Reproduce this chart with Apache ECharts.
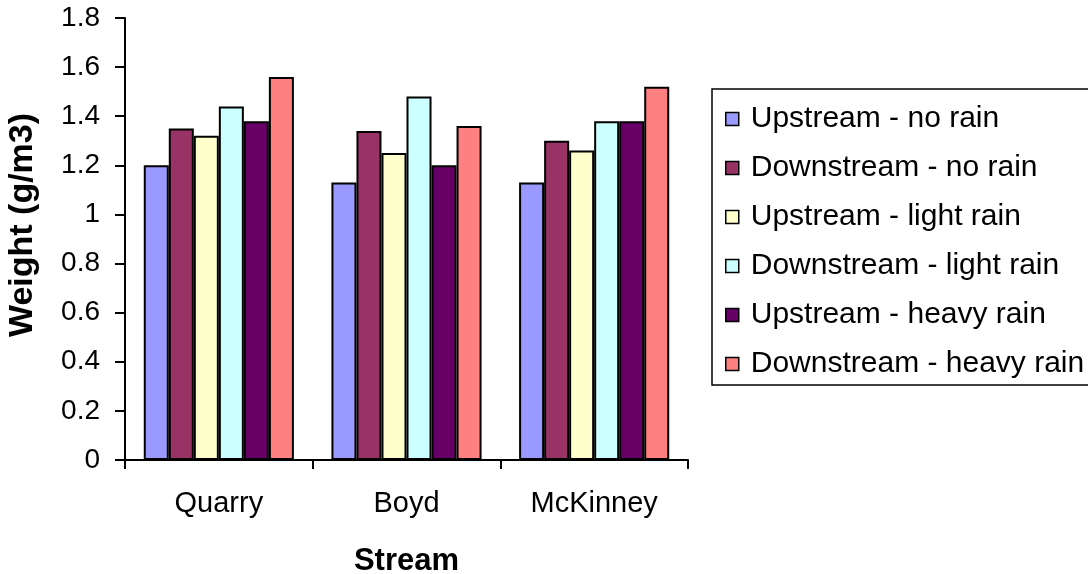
<!DOCTYPE html>
<html>
<head>
<meta charset="utf-8">
<script src="https://cdn.jsdelivr.net/npm/echarts@6/dist/echarts.min.js"></script>
<style>
  html, body { margin: 0; padding: 0; background: #fff; }
  #chart { width: 1088px; height: 574px; }
</style>
</head>
<body>
<div id="chart"></div>
<script>
// Streams sampled
const streams = ['Quarry', 'Boyd', 'McKinney'];

// Series names (sampling position / weather)
const seriesNames = [
  'Upstream - no rain',
  'Downstream - no rain',
  'Upstream - light rain',
  'Downstream - light rain',
  'Upstream - heavy rain',
  'Downstream - heavy rain'
];

// Weight (g/m3) per stream, one array per series
const upstreamNoRain      = [1.20, 1.13, 1.13];
const downstreamNoRain    = [1.35, 1.34, 1.30];
const upstreamLightRain   = [1.32, 1.25, 1.26];
const downstreamLightRain = [1.44, 1.48, 1.38];
const upstreamHeavyRain   = [1.38, 1.20, 1.38];
const downstreamHeavyRain = [1.56, 1.36, 1.52];

const seriesValues = [
  upstreamNoRain, downstreamNoRain, upstreamLightRain,
  downstreamLightRain, upstreamHeavyRain, downstreamHeavyRain
];

const seriesColors = ['#9999FF', '#993366', '#FFFFCC', '#CCFFFF', '#660066', '#FF8080'];

const FONT = '"Liberation Sans", Arial, sans-serif';

const chart = echarts.init(document.getElementById('chart'), null, { renderer: 'canvas' });

chart.setOption({
  animation: false,
  backgroundColor: '#ffffff',
  textStyle: { fontFamily: FONT, color: '#000' },
  grid: {
    left: 125, right: 400, top: 18, bottom: 114,
    containLabel: false,
    outerBoundsMode: 'none'
  },
  legend: {
    orient: 'vertical',
    left: 712,
    top: 89,
    padding: [15, 40, 6, 13],
    itemGap: 19,
    itemWidth: 13,
    itemHeight: 13,
    icon: 'rect',
    borderColor: '#000',
    borderWidth: 1.5,
    itemStyle: { borderColor: '#000', borderWidth: 1.5 },
    textStyle: { fontFamily: FONT, fontSize: 30, color: '#000', lineHeight: 30, padding: [0, 0, 0, 7] },
    data: seriesNames
  },
  xAxis: {
    type: 'category',
    data: streams,
    name: 'Stream',
    nameLocation: 'middle',
    nameGap: 86,
    nameTextStyle: { fontFamily: FONT, fontSize: 31, fontWeight: 'bold', color: '#000' },
    axisLine: { lineStyle: { color: '#000', width: 2 } },
    axisTick: { show: true, length: 9, inside: false, lineStyle: { color: '#000', width: 2 } },
    axisLabel: { fontFamily: FONT, fontSize: 29, color: '#000', margin: 29 },
    splitLine: { show: false }
  },
  yAxis: {
    type: 'value',
    min: 0,
    max: 1.8,
    interval: 0.2,
    name: 'Weight (g/m3)',
    nameLocation: 'middle',
    nameGap: 85,
    nameRotate: 90,
    nameTextStyle: { fontFamily: FONT, fontSize: 34, fontWeight: 'bold', color: '#000', padding: [0, 0, 0, 28] },
    axisLine: { show: true, lineStyle: { color: '#000', width: 2 } },
    axisTick: { show: true, length: 10, inside: false, lineStyle: { color: '#000', width: 2 } },
    axisLabel: {
      fontFamily: FONT, fontSize: 28, color: '#000', margin: 25,
      formatter: v => String(Math.round(v * 10) / 10)
    },
    splitLine: { show: false }
  },
  series: seriesNames.map((name, i) => ({
    name,
    type: 'bar',
    data: seriesValues[i],
    barGap: '0%',
    barCategoryGap: '20%',
    itemStyle: { color: seriesColors[i], borderColor: '#000', borderWidth: 2 }
  }))
});
</script>
</body>
</html>
